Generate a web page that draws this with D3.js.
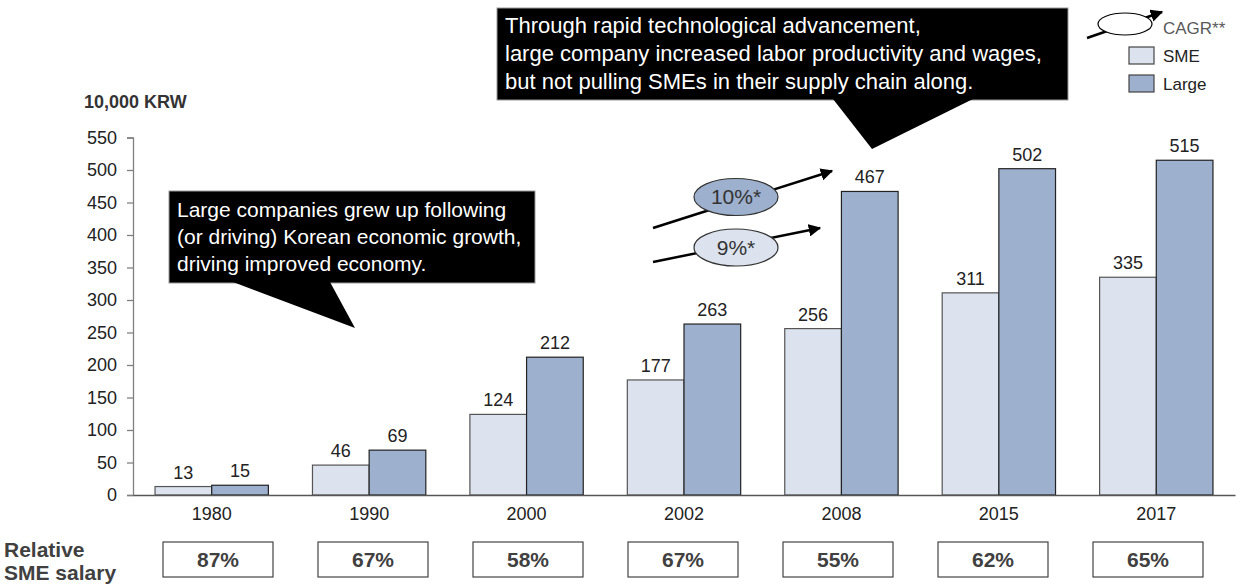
<!DOCTYPE html>
<html>
<head>
<meta charset="utf-8">
<script src="https://cdn.jsdelivr.net/npm/d3@7"></script>
<style>
  html, body { margin: 0; padding: 0; background: #fff; }
  svg { display: block; font-family: "Liberation Sans", Arial, Helvetica, sans-serif; }
</style>
</head>
<body>
<svg id="chart" width="1248" height="586"></svg>
<script>
// ---- data ----
const categories = ["1980", "1990", "2000", "2002", "2008", "2015", "2017"];
const smeValues = [13, 46, 124, 177, 256, 311, 335];
const largeValues = [15, 69, 212, 263, 467, 502, 515];
const relativeSalary = ["87%", "67%", "58%", "67%", "55%", "62%", "65%"];
const yTicks = [0, 50, 100, 150, 200, 250, 300, 350, 400, 450, 500, 550];
const seriesNames = ["SME", "Large"];
const cagrLabels = ["10%*", "9%*"];
const callout1Lines = ["Large companies grew up following", "(or driving) Korean economic growth,", "driving improved economy."];
const callout2Lines = ["Through rapid technological advancement,", "large company increased labor productivity and wages,", "but not pulling SMEs in their supply chain along."];

// ---- styles ----
const colSME = "#dce3ee";
const colLarge = "#9db0cd";
const textCol = "#222";

const svg = d3.select("#chart");
const defs = svg.append("defs");
defs.append("marker").attr("id", "arrow").attr("viewBox", "0 0 10 10")
  .attr("refX", 9).attr("refY", 5).attr("markerWidth", 5).attr("markerHeight", 5)
  .attr("orient", "auto").attr("markerUnits", "strokeWidth")
  .append("path").attr("d", "M0,0 L10,5 L0,10 z").attr("fill", "#000");

const x0 = d3.scaleBand().domain(categories).range([133, 1235]).paddingInner(0.28).paddingOuter(0.14);
const x1 = d3.scaleBand().domain(seriesNames).range([0, x0.bandwidth()]);
const y = d3.scaleLinear().domain([0, 550]).range([495, 137.5]);
const boxX = d3.scalePoint().domain(categories).range([218, 1148]);

// ---- axes ----
const yAxis = svg.append("g").attr("transform", "translate(133,0)")
  .call(d3.axisLeft(y).tickValues(yTicks).tickSize(6).tickPadding(10).tickFormat(d3.format("d")));
yAxis.selectAll("path, line").attr("stroke", "#808080").attr("stroke-width", 1.3);
yAxis.selectAll("text").attr("font-size", 18).attr("fill", textCol).attr("font-family", null);

svg.append("text").attr("x", 84).attr("y", 108).attr("font-size", 18).attr("font-weight", "bold")
  .attr("fill", "#333").text("10,000 KRW");

// ---- bars ----
const groups = svg.append("g").selectAll("g").data(categories).join("g")
  .attr("transform", d => `translate(${x0(d)},0)`);

groups.each(function(cat, i) {
  const g = d3.select(this);
  const vals = [smeValues[i], largeValues[i]];
  seriesNames.forEach((s, j) => {
    g.append("rect")
      .attr("x", x1(s)).attr("width", x1.bandwidth())
      .attr("y", y(vals[j])).attr("height", y(0) - y(vals[j]))
      .attr("fill", j === 0 ? colSME : colLarge)
      .attr("stroke", j === 0 ? "#555" : "#222").attr("stroke-width", 1.2);
    g.append("text")
      .attr("x", x1(s) + x1.bandwidth() / 2).attr("y", y(vals[j]) - 8)
      .attr("text-anchor", "middle").attr("font-size", 18).attr("fill", textCol)
      .text(vals[j]);
  });
});

const xAxis = svg.append("g").attr("transform", "translate(0,495)")
  .call(d3.axisBottom(x0).tickSize(0).tickPadding(12));
xAxis.select(".domain").attr("stroke", "#555").attr("stroke-width", 1.3);
xAxis.selectAll("text").attr("font-size", 18).attr("fill", textCol).attr("font-family", null);

// ---- relative SME salary row ----
svg.append("text").attr("font-size", 21).attr("font-weight", "bold").attr("fill", "#404040")
  .selectAll("tspan").data(["Relative", "SME salary"]).join("tspan")
  .attr("x", 4).attr("y", (d, i) => 557 + i * 23).text(d => d);

const boxes = svg.append("g").selectAll("g").data(categories).join("g")
  .attr("transform", d => `translate(${boxX(d)},0)`);
boxes.append("rect").attr("x", -55).attr("y", 542).attr("width", 110).attr("height", 35)
  .attr("fill", "#fff").attr("stroke", "#444").attr("stroke-width", 1.2);
boxes.append("text").attr("y", 567).attr("text-anchor", "middle").attr("font-size", 21)
  .attr("font-weight", "bold").attr("fill", "#404040").text((d, i) => relativeSalary[i]);

// ---- callouts ----
function callout(rect, tri, lines, baseline0, fs, lh) {
  const g = svg.append("g");
  g.append("rect").attr("x", rect[0]).attr("y", rect[1]).attr("width", rect[2]).attr("height", rect[3])
    .attr("fill", "#000").attr("stroke", "#999").attr("stroke-width", 1);
  g.append("path").attr("d", d3.line()(tri) + "Z").attr("fill", "#000");
  g.append("text").attr("font-size", fs).attr("fill", "#fff")
    .selectAll("tspan").data(lines).join("tspan")
    .attr("x", rect[0] + 8).attr("y", (d, i) => baseline0 + i * lh).text(d => d);
}
callout([169, 191, 366, 92], [[233, 282], [330, 282], [355, 328]], callout1Lines, 217, 21, 27);
callout([497, 8, 571, 92], [[833, 99], [973, 99], [872, 149]], callout2Lines, 33, 22, 28);

// ---- CAGR arrows ----
const cagr = [
  { from: [653, 228], to: [832, 171], c: [736, 197], fill: colLarge },
  { from: [653, 262], to: [820, 228], c: [736, 247.5], fill: colSME }
];
cagr.forEach((a, i) => {
  svg.append("line").attr("x1", a.from[0]).attr("y1", a.from[1]).attr("x2", a.to[0]).attr("y2", a.to[1])
    .attr("stroke", "#000").attr("stroke-width", 2.5).attr("marker-end", "url(#arrow)");
  svg.append("ellipse").attr("cx", a.c[0]).attr("cy", a.c[1]).attr("rx", 42).attr("ry", 18.5)
    .attr("fill", a.fill).attr("stroke", "#333").attr("stroke-width", 1.2);
  svg.append("text").attr("x", a.c[0]).attr("y", a.c[1] + 7).attr("text-anchor", "middle")
    .attr("font-size", 21).attr("fill", "#333").text(cagrLabels[i]);
});

// ---- legend ----
const lg = svg.append("g");
lg.append("line").attr("x1", 1087).attr("y1", 38).attr("x2", 1162).attr("y2", 12)
  .attr("stroke", "#000").attr("stroke-width", 2.5).attr("marker-end", "url(#arrow)");
lg.append("ellipse").attr("cx", 1125).attr("cy", 24).attr("rx", 27).attr("ry", 11)
  .attr("fill", "#fff").attr("stroke", "#000").attr("stroke-width", 1.2);
lg.append("text").attr("x", 1163).attr("y", 34).attr("font-size", 17).attr("fill", "#595959").text("CAGR**");
seriesNames.forEach((s, i) => {
  lg.append("rect").attr("x", 1129).attr("y", 47 + i * 28).attr("width", 25).attr("height", 17)
    .attr("fill", i === 0 ? colSME : colLarge).attr("stroke", "#444").attr("stroke-width", 1.2);
  lg.append("text").attr("x", 1163).attr("y", 62 + i * 28).attr("font-size", 17).attr("fill", textCol).text(s);
});
</script>
</body>
</html>
